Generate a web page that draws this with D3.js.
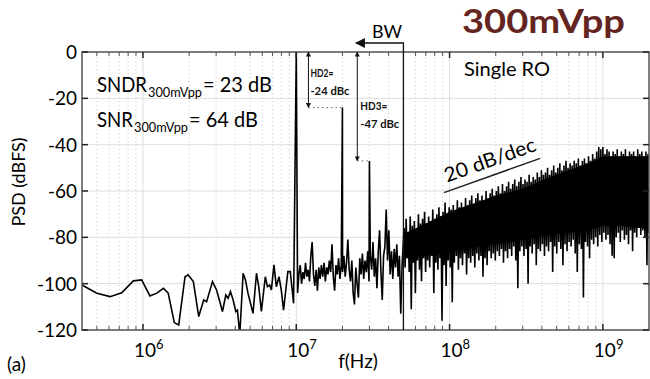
<!DOCTYPE html>
<html>
<head>
<meta charset="utf-8">
<script src="https://cdn.jsdelivr.net/npm/d3@7"></script>
<style>
  body { margin: 0; background: #fff; }
  svg { display: block; font-family: Lato, "Open Sans", sans-serif; }
</style>
</head>
<body>
<svg id="chart" width="650" height="379"></svg>
<script>
// sparse spectrum below the fundamental: [f (Hz), PSD (dBFS)]
const lowBand = [
  [4.0e5, -100.6], [5.0e5, -104.1], [6.1e5, -105.6], [7.26e5, -103.9], [8.65e5, -98.8],
  [9.8e5, -98.4], [1.11e6, -105.3], [1.23e6, -104.1], [1.36e6, -102], [1.46e6, -104.1],
  [1.6e6, -116.8], [1.71e6, -117.8], [1.88e6, -97], [1.97e6, -96.2], [2.13e6, -99.1],
  [2.31e6, -114.2], [2.49e6, -107], [2.6e6, -107.8], [2.84e6, -99.1], [3.02e6, -102.7],
  [3.3e6, -112], [3.47e6, -104.9], [3.59e6, -106.3], [3.72e6, -103.4], [3.87e6, -107],
  [4.03e6, -112], [4.13e6, -111.4], [4.28e6, -122], [4.5e6, -95.5], [4.66e6, -98.4],
  [4.84e6, -104.1], [5.22e6, -112.8], [5.5e6, -95.5], [5.69e6, -101.3], [5.92e6, -112],
  [6.28e6, -97], [6.48e6, -101.3], [6.7e6, -100.6], [6.88e6, -102.7], [7.15e6, -91.9],
  [7.41e6, -101.3], [7.71e6, -97], [7.98e6, -102.7], [8.26e6, -111.4], [8.81e6, -94.8],
  [9.14e6, -94.8], [9.6e6, -108.5]
];

// fundamental, HD2, HD3
const toneFreq = [1e7, 2e7, 3e7];
const toneDb = [0, -24, -47];

// noise floor between the fundamental and BW (bins spread evenly in log f)
const noiseARange = [1.02e7, 4.9e7];
const noiseADb = [
  -104, -96, -92, -100, -95, -98, -91, -97, -94, -99,
  -88, -82, -96, -101, -94, -103, -93, -98, -92, -97,
  -91, -99, -93, -96, -90, -95, -83, -97, -103, -92,
  -96, -89, -98, -92, -95, -88, -97, -91, -81, -94,
  -99, -90, -104, -109, -93, -100, -106, -89, -96, -87,
  -98, -90, -95, -86, -99, -88, -94, -82, -97, -89,
  -102, -86, -77, -95, -107, -88, -84, -68, -90, -77,
  -96, -86, -98, -85, -93, -83, -97, -88, -113, -92
];

// dense noise floor above BW
const noiseBRange = [5.05e7, 2e9];
const noiseBDb = [
  -76, -93, -72, -89, -78, -95, -71, -111, -75, -91, -73, -104, -77, -90, -70, -94, -74, -99, -72, -89,
  -69, -95, -74, -90, -71, -93, -73, -88, -68, -104, -72, -91, -70, -94, -67, -89, -71, -116, -69, -92,
  -65, -101, -70, -90, -67, -93, -68, -108, -66, -91, -69, -88, -64, -94, -67, -89, -65, -92, -68, -87,
  -63, -96, -66, -89, -64, -91, -62, -88, -66, -93, -63, -87, -61, -90, -64, -88, -62, -97, -65, -89,
  -60, -92, -63, -86, -61, -89, -59, -87, -62, -90, -60, -86, -58, -88, -61, -85, -57, -91, -60, -86,
  -58, -89, -56, -85, -59, -88, -57, -84, -55, -90, -58, -102, -56, -86, -54, -84, -57, -88, -55, -85,
  -56, -100, -53, -84, -56, -87, -54, -83, -55, -92, -52, -85, -54, -86, -51, -83, -53, -88, -52, -84,
  -50, -86, -53, -82, -51, -95, -49, -84, -52, -87, -50, -82, -48, -85, -51, -92, -49, -83, -47, -86,
  -50, -82, -48, -84, -49, -81, -47, -87, -48, -95, -46, -83, -49, -85, -47, -106, -46, -82, -48, -84,
  -45, -89, -47, -81, -44, -83, -46, -80, -43, -84, -41, -79, -42, -82, -41, -78, -44, -81, -42, -79,
  -43, -83, -45, -88, -43, -89, -44, -80, -42, -78, -45, -82, -43, -77, -44, -81, -42, -79, -45, -83,
  -43, -77, -44, -86, -43, -78, -45, -80, -42, -76, -44, -79, -43, -77, -45, -80, -43, -92, -44, -78
];

// solid core of the dense noise band
const coreF = [5.2e7, 7e7, 1e8, 1.5e8, 2e8, 3e8, 4.5e8, 6e8, 8e8, 1e9, 1.3e9, 1.6e9, 2e9];
const coreTop = [-78, -74, -69, -65, -62, -59, -54, -51, -48, -45, -45, -45, -45];
const coreBottom = [-89, -88, -86, -84, -83, -81, -79, -78, -77, -75, -75, -76, -76];

const yTicks = [0, -20, -40, -60, -80, -100, -120];
const xDecades = [1e6, 1e7, 1e8, 1e9];
const xDecadeExp = ["6", "7", "8", "9"];

// annotations (data coordinates)
const hd2ArrowF = 1.2e7;
const hd3ArrowF = 2.5e7;
const bwF = 5e7;
const bwArrowTipF = 2.45e7;
const slopeLine = [[9.2e7, -60.7], [3.9e8, -45.9]];

const svg = d3.select("#chart");
const margin = { left: 82, right: 1, top: 52, bottom: 49 };
const W = 650, H = 379;

const x = d3.scaleLog().domain([4e5, 2e9]).range([margin.left, W - margin.right]);
const y = d3.scaleLinear().domain([-120, 0]).range([H - margin.bottom, margin.top]);
const [x0, x1] = x.range();
const [y0, y1] = y.range(); // y0 bottom, y1 top

function spreadLog(range, values) {
  const n = values.length;
  const l0 = Math.log10(range[0]), l1 = Math.log10(range[1]);
  return values.map((v, i) => [Math.pow(10, l0 + (l1 - l0) * i / (n - 1)), v]);
}

const spectrum = lowBand
  .concat(toneFreq.map((f, i) => [f, toneDb[i]]))
  .concat(spreadLog(noiseARange, noiseADb))
  .concat(spreadLog(noiseBRange, noiseBDb))
  .sort((a, b) => a[0] - b[0]);

svg.append("rect").attr("width", W).attr("height", H).attr("fill", "#fff");

const defs = svg.append("defs");
defs.append("clipPath").attr("id", "plot-clip")
  .append("rect").attr("x", x0).attr("y", y1).attr("width", x1 - x0).attr("height", y0 - y1);
defs.append("marker").attr("id", "head")
  .attr("viewBox", "0 0 10 10").attr("refX", 9).attr("refY", 5)
  .attr("markerWidth", 5).attr("markerHeight", 5).attr("orient", "auto-start-reverse")
  .attr("markerUnits", "userSpaceOnUse")
  .append("path").attr("d", "M0,0L10,5L0,10Z").attr("fill", "#111");
defs.append("marker").attr("id", "bwhead")
  .attr("viewBox", "0 0 10 10").attr("refX", 9).attr("refY", 5)
  .attr("markerWidth", 10).attr("markerHeight", 10).attr("orient", "auto")
  .attr("markerUnits", "userSpaceOnUse")
  .append("path").attr("d", "M0,0L10,5L0,10Z").attr("fill", "#111");

// minor x ticks (2..9 within each decade)
const minorTicks = [];
for (let e = 5; e <= 9; e++) {
  for (let m = 2; m <= 9; m++) {
    const v = m * Math.pow(10, e);
    if (v > 4e5 && v < 2e9) minorTicks.push(v);
  }
}

// grid
const grid = svg.append("g");
grid.selectAll(".minor").data(minorTicks).enter().append("line")
  .attr("x1", d => x(d)).attr("x2", d => x(d)).attr("y1", y0).attr("y2", y1)
  .attr("stroke", "#c8c8c8").attr("stroke-width", 1).attr("stroke-dasharray", "1,3");
grid.selectAll(".major").data(xDecades).enter().append("line")
  .attr("x1", d => x(d)).attr("x2", d => x(d)).attr("y1", y0).attr("y2", y1)
  .attr("stroke", "#dedede").attr("stroke-width", 1);
grid.selectAll(".hy").data(yTicks).enter().append("line")
  .attr("x1", x0).attr("x2", x1).attr("y1", d => y(d)).attr("y2", d => y(d))
  .attr("stroke", "#dedede").attr("stroke-width", 1);

// solid core of the noise band, then the trace on top
const plot = svg.append("g").attr("clip-path", "url(#plot-clip)");
plot.append("path")
  .datum(coreF.map((f, i) => [f, coreTop[i], coreBottom[i]]))
  .attr("fill", "#000")
  .attr("d", d3.area().x(d => x(d[0])).y0(d => y(d[2])).y1(d => y(d[1])));
plot.append("path")
  .datum(spectrum)
  .attr("fill", "none")
  .attr("stroke", "#000")
  .attr("stroke-width", 1.6)
  .attr("d", d3.line().x(d => x(d[0])).y(d => y(d[1])));

// axes box and inward ticks
const axisColor = "#555";
const box = svg.append("g").attr("stroke", axisColor).attr("fill", "none");
box.append("rect").attr("x", x0).attr("y", y1).attr("width", x1 - x0).attr("height", y0 - y1)
  .attr("stroke-width", 1.5);
[y0, y1].forEach(edge => {
  const dir = edge === y0 ? -1 : 1;
  box.selectAll(null).data(minorTicks).enter().append("line")
    .attr("x1", d => x(d)).attr("x2", d => x(d))
    .attr("y1", edge).attr("y2", edge + dir * 4).attr("stroke-width", 1);
  box.selectAll(null).data(xDecades).enter().append("line")
    .attr("x1", d => x(d)).attr("x2", d => x(d))
    .attr("y1", edge).attr("y2", edge + dir * 6).attr("stroke", "#222").attr("stroke-width", 1.5);
});
[x0, x1].forEach(edge => {
  const dir = edge === x0 ? 1 : -1;
  box.selectAll(null).data(yTicks).enter().append("line")
    .attr("x1", edge).attr("x2", edge + dir * 6)
    .attr("y1", d => y(d)).attr("y2", d => y(d)).attr("stroke", "#222").attr("stroke-width", 1.5);
});

// tick labels
svg.append("g").selectAll("text").data(yTicks).enter().append("text")
  .attr("x", x0 - 5).attr("y", d => y(d)).attr("dy", "0.36em")
  .attr("text-anchor", "end").attr("font-size", 19).attr("fill", "#000")
  .text(d => d);

const xl = svg.append("g").selectAll("text").data(xDecades).enter().append("text")
  .attr("x", d => x(d) - 9).attr("y", 357)
  .attr("font-size", 19).attr("fill", "#000");
xl.append("tspan").text("10");
xl.append("tspan").attr("font-size", 13).attr("dy", -8).text((d, i) => xDecadeExp[i]);

// axis titles
svg.append("text").attr("x", 358).attr("y", 368).attr("text-anchor", "middle")
  .attr("font-size", 19).text("f(Hz)");
svg.append("text").attr("transform", "translate(25,182) rotate(-90)").attr("text-anchor", "middle")
  .attr("font-size", 18).text("PSD (dBFS)");
svg.append("text").attr("x", 7).attr("y", 371).attr("font-size", 19).text("(a)");

// metrics: pieces placed and stretched to the reference widths
function fitted(g, txt, xs, yb, w, size) {
  return g.append("text").attr("x", xs).attr("y", yb).attr("font-size", size)
    .attr("textLength", w).attr("lengthAdjust", "spacingAndGlyphs").text(txt);
}
function metric(label, sub, value, xs, ws, yb) {
  const g = svg.append("g").attr("fill", "#000");
  fitted(g, label, xs[0], yb, ws[0], 21);
  fitted(g, sub, xs[1], yb + 5, ws[1], 12.5);
  fitted(g, value, xs[2], yb, ws[2], 21);
}
metric("SNDR", "300mVpp", "= 23 dB", [97, 148, 203], [50, 54, 69], 92);
metric("SNR", "300mVpp", "= 64 dB", [97, 134, 189], [36, 54, 69], 127);

fitted(svg, "Single RO", 464, 76, 86, 19);
fitted(svg, "300mVpp", 462, 33, 163, 32)
  .attr("font-weight", "bold").attr("fill", "#642520");

// HD2 / HD3 annotations
const ann = svg.append("g").attr("stroke", "#111");
ann.append("line")
  .attr("x1", x(hd2ArrowF)).attr("x2", x(hd2ArrowF)).attr("y1", y(0)).attr("y2", y(toneDb[1]))
  .attr("stroke-width", 1).attr("marker-start", "url(#head)").attr("marker-end", "url(#head)");
ann.append("line")
  .attr("x1", x(hd2ArrowF)).attr("x2", x(toneFreq[1])).attr("y1", y(toneDb[1])).attr("y2", y(toneDb[1]))
  .attr("stroke", "#666").attr("stroke-width", 1).attr("stroke-dasharray", "1.5,3");
ann.append("line")
  .attr("x1", x(hd3ArrowF)).attr("x2", x(hd3ArrowF)).attr("y1", y(0)).attr("y2", y(toneDb[2]))
  .attr("stroke-width", 1).attr("marker-start", "url(#head)").attr("marker-end", "url(#head)");
ann.append("line")
  .attr("x1", x(hd3ArrowF)).attr("x2", x(toneFreq[2])).attr("y1", y(toneDb[2])).attr("y2", y(toneDb[2]))
  .attr("stroke", "#666").attr("stroke-width", 1).attr("stroke-dasharray", "1.5,3");

const annText = svg.append("g").attr("font-weight", "bold").attr("fill", "#111");
fitted(annText, "HD2=", x(hd2ArrowF) + 2, 77, 23, 12);
fitted(annText, "-24 dBc", x(hd2ArrowF) + 2, 95, 39, 12);
fitted(annText, "HD3=", x(hd3ArrowF) + 3, 110, 27, 12);
fitted(annText, "-47 dBc", x(hd3ArrowF) + 3, 128, 39, 12);

// BW marker
const bwTop = 43;
svg.append("path")
  .attr("d", `M${x(bwF)},${y(-120)}V${bwTop}H${x(bwArrowTipF)}`)
  .attr("fill", "none").attr("stroke", "#111").attr("stroke-width", 1.3)
  .attr("marker-end", "url(#bwhead)");
fitted(svg, "BW", 372, 38, 30, 18);

// 20 dB/dec slope
const sx1 = x(slopeLine[0][0]), sy1 = y(slopeLine[0][1]);
const sx2 = x(slopeLine[1][0]), sy2 = y(slopeLine[1][1]);
const ang = Math.atan2(sy2 - sy1, sx2 - sx1) * 180 / Math.PI;
svg.append("line").attr("x1", sx1).attr("y1", sy1).attr("x2", sx2).attr("y2", sy2)
  .attr("stroke", "#222").attr("stroke-width", 1.5);
svg.append("text")
  .attr("transform", `translate(${sx1 + 3},${sy1 - 10}) rotate(${ang})`)
  .attr("font-size", 20).attr("textLength", 96).attr("lengthAdjust", "spacingAndGlyphs")
  .text("20 dB/dec");
</script>
</body>
</html>
